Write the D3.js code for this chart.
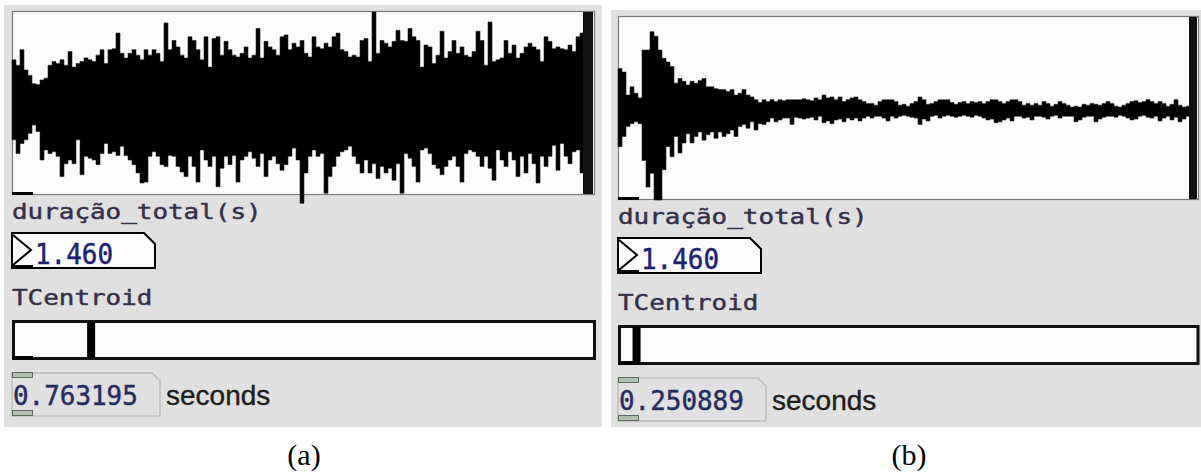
<!DOCTYPE html>
<html>
<head>
<meta charset="utf-8">
<script src="https://cdn.jsdelivr.net/npm/d3@7"></script>
<style>
  html, body { margin: 0; padding: 0; background: #fff; }
  svg { display: block; }
</style>
</head>
<body>
<svg id="chart" width="1201" height="472"></svg>
<script>
// Waveform envelopes (peak amplitude per column, normalised to the array range -1..1)
const waveTopA = [
  0.47, 0.41, 0.58, 0.36, 0.30, 0.21, 0.20, 0.25, 0.27, 0.41,
  0.45, 0.43, 0.47, 0.41, 0.56, 0.39, 0.43, 0.45, 0.49, 0.47,
  0.45, 0.52, 0.58, 0.43, 0.58, 0.59, 0.76, 0.54, 0.49, 0.54,
  0.58, 0.52, 0.47, 0.58, 0.52, 0.58, 0.54, 0.45, 0.87, 0.58,
  0.68, 0.61, 0.52, 0.49, 0.72, 0.68, 0.58, 0.47, 0.72, 0.39,
  0.70, 0.72, 0.52, 0.67, 0.58, 0.52, 0.50, 0.54, 0.61, 0.49,
  0.52, 0.81, 0.49, 0.67, 0.61, 0.58, 0.52, 0.72, 0.74, 0.58,
  0.65, 0.61,
  0.68, 0.54, 0.50, 0.72, 0.61, 0.59, 0.65, 0.61, 0.72, 0.76,
  0.58, 0.56, 0.50, 0.52, 0.50, 0.68, 0.70, 0.45, 0.99, 0.54,
  0.68, 0.65, 0.61, 0.67, 0.79, 0.68, 0.67, 0.81, 0.72, 0.68,
  0.39, 0.63, 0.61, 0.43, 0.52, 0.78, 0.49, 0.56, 0.68, 0.54,
  0.61, 0.52, 0.50, 0.56, 0.78, 0.68, 0.41, 0.88, 0.45, 0.47,
  0.49, 0.68, 0.54, 0.63, 0.49, 0.54, 0.61, 0.65, 0.61, 0.58,
  0.45, 0.72, 0.67, 0.59, 0.61, 0.59, 0.58, 0.63, 0.56, 0.72, 0.76
];
const waveBotA = [
  0.40, 0.55, 0.44, 0.40, 0.33, 0.24, 0.31, 0.62, 0.51, 0.55,
  0.53, 0.58, 0.80, 0.66, 0.62, 0.66, 0.40, 0.78, 0.58, 0.60,
  0.62, 0.67, 0.55, 0.44, 0.55, 0.53, 0.57, 0.47, 0.57, 0.62,
  0.67, 0.76, 0.87, 0.86, 0.58, 0.53, 0.58, 0.67, 0.69, 0.57,
  0.58, 0.69, 0.75, 0.80, 0.58, 0.69, 0.86, 0.51, 0.62, 0.69,
  0.58, 0.91, 0.71, 0.58, 0.67, 0.57, 0.86, 0.62, 0.58, 0.53,
  0.60, 0.69, 0.55, 0.80, 0.62, 0.58, 0.66, 0.73, 0.67, 0.58,
  0.49, 0.62,
  1.09, 0.76, 0.58, 0.51, 0.58, 0.55, 0.98, 0.80, 0.69, 0.58,
  0.53, 0.51, 0.47, 0.58, 0.66, 0.76, 0.62, 0.76, 0.66, 0.82,
  0.69, 0.76, 0.71, 0.84, 0.66, 0.98, 0.55, 0.60, 0.69, 0.86,
  0.51, 0.49, 0.55, 0.67, 0.71, 0.78, 0.69, 0.62, 0.58, 0.69,
  0.86, 0.55, 0.51, 0.53, 0.58, 0.69, 0.58, 0.71, 0.84, 0.51,
  0.62, 0.69, 0.53, 0.62, 0.80, 0.58, 0.76, 0.55, 0.66, 0.87,
  0.58, 0.69, 0.58, 0.46, 0.73, 0.44, 0.58, 0.66, 0.53, 0.51, 0.76
];
const waveTopB = [
  0.43, 0.39, 0.14, 0.23, 0.16, 0.11, 0.63, 0.63, 0.83, 0.78,
  0.63, 0.54, 0.50, 0.45, 0.27, 0.32, 0.29, 0.25, 0.29, 0.27,
  0.30, 0.32, 0.23, 0.23, 0.21, 0.20, 0.20, 0.18, 0.20, 0.14,
  0.16, 0.20, 0.14, 0.12, 0.09, 0.06, 0.09, 0.07, 0.09, 0.07,
  0.09, 0.08, 0.09, 0.09, 0.09, 0.09, 0.10, 0.09, 0.08, 0.11,
  0.09, 0.14, 0.11, 0.12, 0.09, 0.12, 0.07, 0.09, 0.11, 0.12,
  0.09, 0.07, 0.05, 0.05, 0.03, 0.07, 0.09, 0.09, 0.09, 0.07,
  0.03, 0.04, 0.02, 0.05, 0.07, 0.12, 0.09, 0.04, 0.05, 0.07,
  0.09, 0.09, 0.09, 0.06, 0.04, 0.06, 0.07, 0.05, 0.07, 0.06,
  0.07, 0.05, 0.07, 0.09, 0.09, 0.07, 0.05, 0.07, 0.09, 0.09,
  0.07, 0.03, 0.05, 0.03, 0.05, 0.03, 0.07, 0.05, 0.02, 0.04,
  0.07, 0.05, 0.03, 0.01, 0.02, 0.01, 0.04, 0.03, 0.05, 0.04,
  0.03, 0.05, 0.07, 0.05, 0.02, 0.01, 0.03, 0.05, 0.07, 0.08,
  0.06, 0.07, 0.09, 0.07, 0.05, 0.07, 0.05, 0.02, 0.04, 0.09,
  0.03, 0.01, 0.02
];
const waveBotB = [
  0.42, 0.31, 0.20, 0.17, 0.15, 0.17, 0.57, 0.86, 0.71, 1.00,
  1.00, 0.67, 0.42, 0.53, 0.31, 0.49, 0.38, 0.28, 0.38, 0.31,
  0.26, 0.35, 0.29, 0.26, 0.33, 0.26, 0.31, 0.28, 0.24, 0.31,
  0.20, 0.18, 0.22, 0.15, 0.24, 0.17, 0.18, 0.15, 0.11, 0.15,
  0.13, 0.11, 0.11, 0.18, 0.10, 0.11, 0.12, 0.11, 0.10, 0.13,
  0.09, 0.16, 0.14, 0.17, 0.13, 0.12, 0.15, 0.11, 0.13, 0.11,
  0.14, 0.11, 0.09, 0.11, 0.09, 0.09, 0.11, 0.14, 0.09, 0.11,
  0.09, 0.08, 0.09, 0.10, 0.11, 0.18, 0.12, 0.14, 0.09, 0.08,
  0.11, 0.09, 0.08, 0.09, 0.10, 0.09, 0.08, 0.09, 0.10, 0.08,
  0.09, 0.11, 0.13, 0.12, 0.16, 0.15, 0.13, 0.11, 0.14, 0.09,
  0.09, 0.11, 0.10, 0.13, 0.09, 0.09, 0.10, 0.12, 0.09, 0.08,
  0.11, 0.09, 0.09, 0.09, 0.15, 0.13, 0.10, 0.09, 0.09, 0.15,
  0.12, 0.10, 0.09, 0.09, 0.10, 0.08, 0.09, 0.11, 0.13, 0.12,
  0.09, 0.08, 0.10, 0.11, 0.09, 0.14, 0.11, 0.09, 0.13, 0.10,
  0.15, 0.12, 0.09
];

// Values shown in the number boxes and on the slider
const durations = [1.460, 1.460];
const centroids = [0.763195, 0.250889];
const captions = ["(a)", "(b)"];
const durationLabel = "duração_total(s)";
const centroidLabel = "TCentroid";
const unitLabel = "seconds";
const sliderRange = [0.06, 5];

const svg = d3.select("#chart");
const fmtDur = d3.format(".3f");
const fmtCent = d3.format(".6f");
const CHAR_W = 15.6;        // advance of the patch font
const MONO = "'DejaVu Sans Mono', monospace";

const panels = [
  { dx: 0,   dy: 0, top: waveTopA, bot: waveBotA, bg: [4, 602],   boxRight: 595,  capX: 304 },
  { dx: 606, dy: 5, top: waveTopB, bot: waveBotB, bg: [611, 1201], boxRight: 1199, capX: 909 }
];

function monoText(g, str, x, y, size, fill) {
  g.append("text")
    .attr("x", x).attr("y", y)
    .attr("font-family", MONO).attr("font-size", size)
    .attr("fill", fill)
    .attr("stroke", fill).attr("stroke-width", 0.45)
    .attr("textLength", str.length * CHAR_W)
    .attr("lengthAdjust", "spacingAndGlyphs")
    .text(str);
}

panels.forEach((p, k) => {
  const g = svg.append("g");
  const L = 12 + p.dx;          // left edge of the widgets
  const oy = p.dy;

  // patch background
  g.append("rect").attr("x", p.bg[0]).attr("y", 5 + oy)
    .attr("width", p.bg[1] - p.bg[0]).attr("height", 422 - oy)
    .attr("fill", "#e0e0e0");

  // ---- array (waveform) ----
  const boxTop = 11 + oy, boxBot = 195 + oy;
  g.append("rect").attr("x", L + 0.5).attr("y", boxTop + 0.5)
    .attr("width", p.boxRight - L - 1).attr("height", boxBot - boxTop - 1)
    .attr("fill", "#fcfcfc").attr("stroke", "#7a7a7a").attr("stroke-width", 1.2);

  const n = p.top.length;
  const x = d3.scaleLinear().domain([0, n]).range([L, L + 572]);
  const y = d3.scaleLinear().domain([-1, 1]).range([boxBot, boxTop]);
  const cols = p.top.map((t, i) => ({ i, t, b: p.bot[i] }));
  cols.push({ i: n, t: p.top[n - 1], b: p.bot[n - 1] });

  const area = d3.area()
    .x(d => x(d.i))
    .y0(d => y(-d.b))
    .y1(d => y(d.t))
    .curve(d3.curveStepAfter);
  g.append("path").datum(cols).attr("d", area)
    .attr("fill", "#000").attr("stroke", "#222").attr("stroke-width", 0.6);

  // end-of-array marker at the right edge
  g.append("rect").attr("x", x(n) - 1).attr("y", boxTop + 1)
    .attr("width", p.boxRight - x(n) - 1).attr("height", boxBot - boxTop - 2)
    .attr("fill", "#111");
  // outlet
  g.append("rect").attr("x", L).attr("y", boxBot - 3).attr("width", 21).attr("height", 3).attr("fill", "#000");

  // ---- duration label and number box ----
  monoText(g, durationLabel, L, 219 + oy, 22, "#34304a");

  const nb = { x0: L, y0: 233 + oy, x1: L + 143, y1: 268 + oy, c: 11 };
  g.append("path")
    .attr("d", `M${nb.x0},${nb.y0}H${nb.x1 - nb.c}L${nb.x1},${nb.y0 + nb.c}V${nb.y1}H${nb.x0}Z`)
    .attr("fill", "#fcfcfc").attr("stroke", "#000").attr("stroke-width", 2);
  g.append("path")
    .attr("d", `M${nb.x0 + 1},${nb.y0 + 2}L${nb.x0 + 19},${nb.y0 + 17}L${nb.x0 + 1},${nb.y1 - 3}`)
    .attr("fill", "none").attr("stroke", "#000").attr("stroke-width", 2);
  g.append("rect").attr("x", nb.x0).attr("y", nb.y1 - 3).attr("width", 21).attr("height", 3).attr("fill", "#000");
  monoText(g, fmtDur(durations[k]), L + 23, nb.y1 - 4, 28, "#1c2170");

  // ---- centroid label and slider ----
  monoText(g, centroidLabel, L, 305 + oy, 22, "#34304a");

  const sl = { x0: L, y0: 320 + oy, x1: L + 584, y1: 360 + oy };
  const sx = d3.scaleLinear().domain(sliderRange).range([sl.x0, sl.x1]);
  g.append("rect").attr("x", sl.x0 + 1.5).attr("y", sl.y0 + 1.5)
    .attr("width", Math.min(sl.x1, 1199.5) - sl.x0 - 3).attr("height", sl.y1 - sl.y0 - 3)
    .attr("fill", "#fcfcfc").attr("stroke", "#111").attr("stroke-width", 3);
  g.append("rect").attr("x", sl.x0).attr("y", sl.y1 - 4).attr("width", 21).attr("height", 4).attr("fill", "#000");
  g.append("rect").attr("x", sx(centroids[k]) - 8).attr("y", sl.y0 + 2)
    .attr("width", 8).attr("height", sl.y1 - sl.y0 - 4).attr("fill", "#000");

  // ---- centroid number box ----
  const cb = { x0: L, y0: 373 + oy, x1: L + 148, y1: 416 + oy, c: 8 };
  g.append("path")
    .attr("d", `M${cb.x0},${cb.y0}H${cb.x1 - cb.c}L${cb.x1},${cb.y0 + cb.c}V${cb.y1}H${cb.x0}Z`)
    .attr("fill", "none").attr("stroke", "#bcbcbc").attr("stroke-width", 1.5);
  [cb.y0 - 1, cb.y1 - 6].forEach(yy => {
    g.append("rect").attr("x", cb.x0 + 0.5).attr("y", yy + 0.5).attr("width", 20).attr("height", 5)
      .attr("fill", "#b4bfb4").attr("stroke", "#5d6d5d").attr("stroke-width", 1);
  });
  monoText(g, fmtCent(centroids[k]), L + 1, 405 + oy, 27, "#262c62");
  g.append("text").attr("x", L + 154).attr("y", 405 + oy)
    .attr("font-family", "'Liberation Sans', Arial, sans-serif").attr("font-size", 28)
    .attr("fill", "#1e1e1e").attr("stroke", "#1e1e1e").attr("stroke-width", 0.4)
    .text(unitLabel);

  // ---- caption ----
  svg.append("text").attr("x", p.capX).attr("y", 465)
    .attr("text-anchor", "middle")
    .attr("font-family", "'Liberation Serif', 'DejaVu Serif', serif").attr("font-size", 30)
    .attr("fill", "#000").text(captions[k]);
});
</script>
</body>
</html>
